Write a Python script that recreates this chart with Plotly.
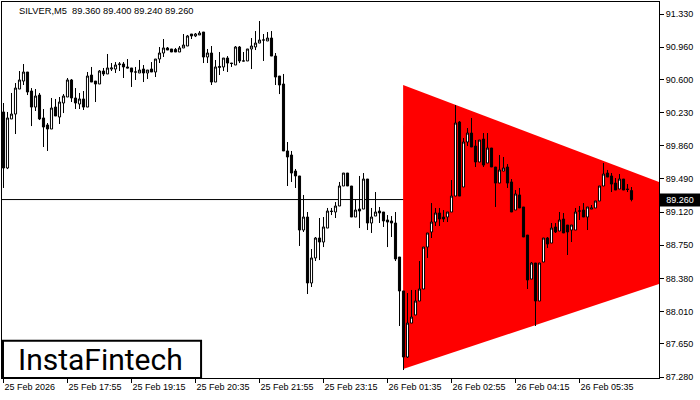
import plotly.graph_objects as go

symbol = "SILVER,M5"
last_ohlc = ["89.360", "89.400", "89.240", "89.260"]
bid_price = 89.260

opens = [90.237, 89.612, 90.159, 90.214, 90.493, 90.582, 90.683, 90.471, 90.292, 90.426,
         90.170, 90.092, 90.047, 90.292, 90.181, 90.337, 90.404, 90.594, 90.393, 90.326,
         90.382, 90.292, 90.649, 90.582, 90.549, 90.694, 90.661, 90.716, 90.716, 90.765,
         90.772, 90.739, 90.728, 90.683, 90.672, 90.716, 90.672, 90.716, 90.683, 90.828,
         90.895, 90.951, 90.940, 90.935, 90.906, 90.951, 90.973, 91.107, 91.085, 91.096,
         91.129, 90.850, 90.895, 90.571, 90.733, 90.739, 90.839, 90.783, 90.761, 90.962,
         90.806, 90.806, 90.940, 90.962, 91.006, 91.040, 91.029, 91.062, 90.861, 90.638,
         90.549, 89.802, 89.757, 89.578, 89.523, 88.920, 89.065, 88.329, 88.608, 88.831,
         88.786, 88.942, 89.132, 89.121, 89.188, 89.411, 89.556, 89.411, 89.065, 89.154,
         89.154, 89.489, 88.998, 89.076, 89.132, 89.121, 89.032, 89.021, 88.998, 88.619,
         88.240, 87.503, 87.882, 87.972, 88.128, 88.262, 88.730, 88.898, 89.009, 89.110,
         89.065, 89.065, 89.121, 89.299, 90.125, 89.400, 89.902, 90.002, 89.857, 89.679,
         89.935, 89.668, 89.835, 89.623, 89.444, 89.578, 89.623, 89.456, 89.143, 89.311,
         89.177, 88.864, 88.373, 88.552, 88.128, 88.563, 88.831, 88.775, 88.954, 88.909,
         89.043, 88.976, 88.920, 88.920, 89.132, 89.143, 89.065, 89.154, 89.166, 89.244,
         89.411, 89.556, 89.523, 89.444, 89.378, 89.489, 89.378, 89.360]
highs = [90.337, 90.237, 90.449, 90.560, 90.694, 90.772, 90.683, 90.504, 90.493, 90.449,
         90.270, 90.114, 90.393, 90.382, 90.404, 90.437, 90.616, 90.605, 90.504, 90.449,
         90.471, 90.683, 90.739, 90.582, 90.705, 90.728, 90.884, 90.783, 90.794, 90.794,
         90.794, 90.828, 90.728, 90.739, 90.817, 90.761, 90.705, 90.794, 90.828, 90.962,
         91.051, 90.962, 90.940, 90.951, 90.973, 91.107, 91.096, 91.107, 91.118, 91.140,
         91.129, 90.940, 90.973, 90.817, 90.906, 90.839, 90.861, 90.783, 90.973, 90.973,
         90.906, 90.940, 91.062, 91.140, 91.252, 91.107, 91.129, 91.140, 90.895, 90.638,
         90.661, 89.902, 89.802, 89.601, 89.523, 89.311, 89.121, 88.708, 88.842, 89.054,
         89.065, 89.166, 89.166, 89.232, 89.456, 89.556, 89.556, 89.411, 89.266, 89.523,
         89.556, 89.489, 89.166, 89.344, 89.177, 89.121, 89.087, 89.076, 89.121, 88.619,
         88.240, 88.217, 88.251, 88.251, 88.574, 88.730, 88.887, 89.221, 89.166, 89.166,
         89.143, 89.121, 89.478, 90.315, 90.136, 89.947, 90.058, 90.170, 89.924, 89.924,
         90.002, 90.002, 89.835, 89.623, 89.757, 89.735, 89.656, 89.489, 89.366, 89.389,
         89.177, 88.864, 88.563, 88.552, 88.552, 88.831, 88.842, 88.998, 88.998, 89.121,
         89.110, 88.976, 88.976, 89.166, 89.188, 89.221, 89.177, 89.199, 89.244, 89.411,
         89.668, 89.590, 89.556, 89.500, 89.545, 89.489, 89.433, 89.400]
lows = [89.389, 89.600, 90.159, 89.991, 90.493, 90.538, 90.426, 90.080, 90.248, 90.147,
        89.846, 89.802, 90.047, 90.192, 90.103, 90.225, 90.404, 90.348, 90.270, 90.270,
        90.259, 90.292, 90.571, 90.348, 90.549, 90.638, 90.661, 90.694, 90.672, 90.694,
        90.616, 90.728, 90.516, 90.594, 90.672, 90.571, 90.605, 90.683, 90.627, 90.783,
        90.850, 90.928, 90.906, 90.906, 90.906, 90.951, 90.973, 91.051, 91.073, 91.096,
        90.783, 90.783, 90.538, 90.571, 90.649, 90.694, 90.683, 90.739, 90.761, 90.783,
        90.806, 90.806, 90.716, 90.928, 91.006, 90.806, 91.029, 90.861, 90.538, 90.437,
        89.802, 89.411, 89.456, 89.389, 88.742, 88.898, 88.206, 88.284, 88.574, 88.585,
        88.730, 88.942, 89.087, 89.054, 89.188, 89.411, 89.411, 89.065, 89.065, 88.942,
        89.154, 88.920, 88.887, 89.076, 88.998, 88.954, 88.730, 88.842, 88.574, 87.849,
        87.358, 87.492, 87.882, 87.972, 88.128, 88.262, 88.608, 88.831, 88.965, 88.965,
        89.009, 89.009, 89.121, 89.299, 89.299, 89.400, 89.857, 89.846, 89.623, 89.679,
        89.623, 89.668, 89.623, 89.177, 89.444, 89.578, 89.389, 89.121, 89.143, 89.166,
        88.842, 88.262, 88.373, 87.849, 88.128, 88.563, 88.719, 88.775, 88.887, 88.909,
        88.887, 88.641, 88.786, 88.920, 89.032, 89.065, 88.920, 89.154, 89.166, 89.244,
        89.411, 89.511, 89.344, 89.366, 89.378, 89.366, 89.344, 89.240]
closes = [89.612, 90.170, 90.214, 90.504, 90.594, 90.683, 90.460, 90.292, 90.415, 90.159,
          90.069, 90.047, 90.281, 90.192, 90.348, 90.415, 90.594, 90.393, 90.337, 90.382,
          90.292, 90.638, 90.571, 90.549, 90.694, 90.661, 90.728, 90.728, 90.761, 90.772,
          90.739, 90.728, 90.683, 90.683, 90.705, 90.672, 90.705, 90.683, 90.828, 90.895,
          90.951, 90.928, 90.906, 90.906, 90.951, 90.984, 91.085, 91.085, 91.107, 91.118,
          90.850, 90.895, 90.571, 90.739, 90.745, 90.839, 90.783, 90.778, 90.962, 90.806,
          90.806, 90.940, 90.973, 91.006, 91.040, 91.040, 91.062, 90.861, 90.627, 90.538,
          89.802, 89.735, 89.556, 89.523, 88.920, 89.065, 88.329, 88.608, 88.831, 88.786,
          88.954, 89.132, 89.127, 89.188, 89.411, 89.556, 89.411, 89.065, 89.143, 89.132,
          89.489, 88.998, 89.065, 89.121, 89.110, 89.021, 89.009, 88.998, 88.597, 88.240,
          87.503, 87.882, 87.949, 88.128, 88.262, 88.730, 88.887, 89.009, 89.110, 89.043,
          89.043, 89.121, 89.299, 90.114, 89.299, 89.902, 90.002, 89.846, 89.679, 89.924,
          89.645, 89.835, 89.623, 89.444, 89.590, 89.612, 89.444, 89.121, 89.322, 89.166,
          88.842, 88.362, 88.552, 88.128, 88.552, 88.831, 88.764, 88.942, 88.898, 89.032,
          88.887, 88.898, 88.976, 89.121, 89.132, 89.065, 89.177, 89.166, 89.244, 89.411,
          89.545, 89.511, 89.433, 89.366, 89.489, 89.366, 89.372, 89.260]
bar_index = list(range(len(opens)))

tick_bars = [0, 16, 32, 48, 64, 80, 96, 112, 128, 144]
tick_labels = ["25 Feb 2026", "25 Feb 17:55", "25 Feb 19:15", "25 Feb 20:35",
               "25 Feb 21:55", "25 Feb 23:15", "26 Feb 01:35", "26 Feb 02:55",
               "26 Feb 04:15", "26 Feb 05:35"]
price_ticks = [91.330, 90.960, 90.600, 90.230, 89.860, 89.490, 89.120,
               88.750, 88.380, 88.010, 87.650, 87.280]

# symmetrical triangle pattern (bar index, price)
tri_x = [99.9, 99.9, 199.7]
tri_y = [90.538, 87.369, 88.850]

x_range = [-0.375, 163.875]
y_range = [87.269, 91.464]

axis_font = dict(family="Liberation Sans, Arial, sans-serif", size=9, color="black")

fig = go.Figure()
fig.add_trace(go.Candlestick(
    x=bar_index, open=opens, high=highs, low=lows, close=closes,
    increasing=dict(line=dict(color="black", width=1), fillcolor="white"),
    decreasing=dict(line=dict(color="black", width=1), fillcolor="black"),
    whiskerwidth=0, showlegend=False, hoverinfo="skip",
))

tri_path = "M {},{} L {},{} L {},{} Z".format(tri_x[0], tri_y[0], tri_x[1], tri_y[1], tri_x[2], tri_y[2])
fig.add_shape(type="path", path=tri_path, xref="x", yref="y",
              fillcolor="#ff0000", line=dict(width=0), layer="below")
fig.add_shape(type="line", xref="paper", yref="y", x0=0, x1=1, y0=bid_price, y1=bid_price,
              line=dict(color="black", width=1), layer="below")

# logo box
fig.add_shape(type="rect", xref="paper", yref="paper", x0=0.0015, x1=0.303, y0=0.0, y1=0.099,
              line=dict(color="black", width=2), fillcolor="white", layer="above")
fig.add_annotation(text="InstaFintech", xref="paper", yref="paper", x=0.150, y=0.049,
                   showarrow=False, xanchor="center", yanchor="middle",
                   font=dict(family="Roboto, Arial, sans-serif", size=30, color="black"))

fig.add_annotation(text=symbol + "  " + " ".join(last_ohlc), xref="paper", yref="paper",
                   x=0.0228, y=0.995, xanchor="left", yanchor="top", showarrow=False,
                   font=dict(family="Liberation Sans, Arial, sans-serif", size=9.3, color="black"))

fig.add_annotation(text="{:.3f}".format(bid_price), xref="paper", yref="y", x=1.0, y=bid_price,
                   xanchor="left", yanchor="middle", showarrow=False, bgcolor="black",
                   width=40, height=12, borderpad=0,
                   font=dict(family="Liberation Sans, Arial, sans-serif", size=9, color="white"))

fig.update_layout(
    width=700, height=400,
    margin=dict(l=2, r=41, t=2, b=22),
    paper_bgcolor="white", plot_bgcolor="white",
    boxgap=0.25,
    showlegend=False,
    xaxis=dict(range=x_range, rangeslider=dict(visible=False), showgrid=False, zeroline=False,
               tickmode="array", tickvals=tick_bars, ticktext=tick_labels,
               ticks="outside", ticklen=4, tickcolor="black", tickfont=axis_font,
               ticklabelposition="outside right",
               showline=True, linecolor="black", linewidth=1, mirror=True),
    yaxis=dict(range=y_range, side="right", showgrid=False, zeroline=False,
               tickmode="array", tickvals=price_ticks, tickformat=".3f",
               ticks="outside", ticklen=4, tickcolor="black", tickfont=axis_font,
               showline=True, linecolor="black", linewidth=1, mirror=True),
)

fig.write_html("out.html", config={"displayModeBar": False},
               post_script="document.body.style.margin='0';document.body.style.overflow='hidden';")
